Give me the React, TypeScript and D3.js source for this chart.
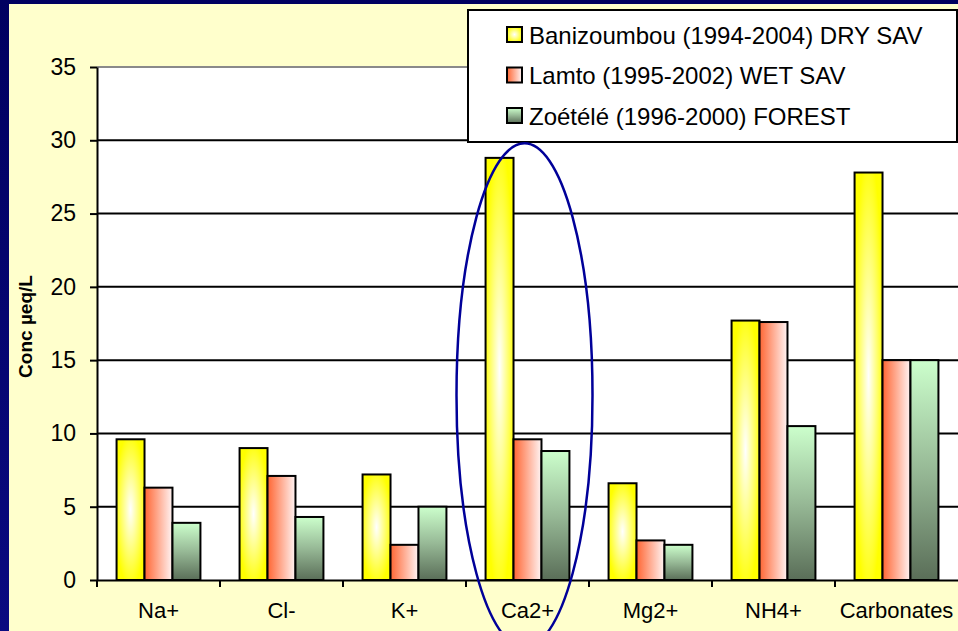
import React, { useEffect, useRef } from 'react';
import * as d3 from 'd3';

const categories = ["Na+", "Cl-", "K+", "Ca2+", "Mg2+", "NH4+", "Carbonates"];
const seriesNames = [
    "Banizoumbou (1994-2004) DRY SAV",
    "Lamto (1995-2002) WET SAV",
    "Zoétélé (1996-2000) FOREST"
];
const banizoumbou = [9.6, 9.0, 7.2, 28.8, 6.6, 17.7, 27.8];
const lamto = [6.3, 7.1, 2.4, 9.6, 2.7, 17.6, 15.0];
const zoetele = [3.9, 4.3, 5.0, 8.8, 2.4, 10.5, 15.0];
const yTicks = [0, 5, 10, 15, 20, 25, 30, 35];

const FONT = "Arial, 'Liberation Sans', sans-serif";

const App = () => {
    const svgRef = useRef(null);

    useEffect(() => {
        document.body.style.margin = "0";
        const W = 958, H = 631;
        const plot = { left: 97, right: 958, top: 67, bottom: 580 };

        const svg = d3.select(svgRef.current);
        svg.selectAll("*").remove();
        svg.attr("width", W).attr("height", H);

        const defs = svg.append("defs");

        // navy frame gradient
        const frame = defs.append("linearGradient").attr("id", "frame")
            .attr("x1", 0).attr("y1", 0).attr("x2", 0).attr("y2", 1);
        frame.append("stop").attr("offset", 0).attr("stop-color", "#000060");
        frame.append("stop").attr("offset", 1).attr("stop-color", "#0a0a80");

        // bar fills
        const yel = defs.append("radialGradient").attr("id", "g0")
            .attr("cx", 0.5).attr("cy", 0.5).attr("r", 0.55);
        yel.append("stop").attr("offset", 0).attr("stop-color", "#ffffff");
        yel.append("stop").attr("offset", 1).attr("stop-color", "#ffff00");

        const red = defs.append("linearGradient").attr("id", "g1")
            .attr("x1", 0).attr("y1", 0).attr("x2", 1).attr("y2", 0);
        red.append("stop").attr("offset", 0).attr("stop-color", "#ff6633");
        red.append("stop").attr("offset", 1).attr("stop-color", "#fff4f4");

        const grn = defs.append("linearGradient").attr("id", "g2")
            .attr("x1", 0).attr("y1", 0).attr("x2", 0).attr("y2", 1);
        grn.append("stop").attr("offset", 0).attr("stop-color", "#ccffcc");
        grn.append("stop").attr("offset", 0.5).attr("stop-color", "#97b996");
        grn.append("stop").attr("offset", 1).attr("stop-color", "#5a6e58");

        // background
        svg.append("rect").attr("width", W).attr("height", H).attr("fill", "url(#frame)");
        svg.append("rect").attr("x", 9).attr("y", 4).attr("width", W - 9).attr("height", H - 4)
            .attr("fill", "#ffffcc");

        // plot area
        svg.append("rect")
            .attr("x", plot.left).attr("y", plot.top)
            .attr("width", plot.right - plot.left).attr("height", plot.bottom - plot.top)
            .attr("fill", "#ffffff");

        const x0 = d3.scaleBand().domain(categories).range([plot.left, plot.right]).padding(0);
        const x1 = d3.scaleBand().domain(["0", "1", "2"]).range([0, x0.bandwidth()])
            .paddingInner(0).paddingOuter(0.7);
        const y = d3.scaleLinear().domain([0, 35]).range([plot.bottom, plot.top]);

        // gridlines
        svg.append("g").selectAll("line")
            .data(yTicks.filter(d => d > 0))
            .enter().append("line")
            .attr("x1", plot.left).attr("x2", plot.right)
            .attr("y1", d => y(d)).attr("y2", d => y(d))
            .attr("stroke", d => d === 35 ? "#8a8a8a" : "#000")
            .attr("stroke-width", 2);

        // bars
        const series = [banizoumbou, lamto, zoetele];
        const table = categories.map((c, i) => ({ c, vals: series.map(s => s[i]) }));

        const groups = svg.append("g").selectAll("g")
            .data(table)
            .enter().append("g")
            .attr("transform", d => `translate(${x0(d.c)},0)`);

        groups.selectAll("rect")
            .data(d => d.vals.map((v, k) => ({ v, k })))
            .enter().append("rect")
            .attr("x", d => x1(String(d.k)))
            .attr("y", d => y(d.v))
            .attr("width", x1.bandwidth())
            .attr("height", d => y(0) - y(d.v))
            .attr("fill", d => `url(#g${d.k})`)
            .attr("stroke", "#000")
            .attr("stroke-width", 2);

        // y axis
        const yAxis = d3.axisLeft(y).tickValues(yTicks).tickSize(7).tickSizeOuter(0).tickPadding(14);
        const ya = svg.append("g").attr("transform", `translate(${plot.left},0)`).call(yAxis);
        ya.select(".domain").attr("stroke", "#000").attr("stroke-width", 2);
        ya.selectAll(".tick line").attr("stroke", "#000").attr("stroke-width", 2);
        ya.selectAll("text")
            .attr("font-family", FONT)
            .attr("font-size", "23px")
            .attr("fill", "#000");

        // x axis
        const xAxis = d3.axisBottom(x0).tickSize(0).tickSizeOuter(0).tickPadding(22);
        const xa = svg.append("g").attr("transform", `translate(0,${plot.bottom})`).call(xAxis);
        xa.select(".domain").attr("stroke", "#000").attr("stroke-width", 2);
        xa.selectAll("text")
            .attr("font-family", FONT)
            .attr("font-size", "22px")
            .attr("fill", "#000");

        // tick marks between categories
        svg.append("g").selectAll("line")
            .data(d3.range(categories.length))
            .enter().append("line")
            .attr("x1", i => plot.left + i * x0.step())
            .attr("x2", i => plot.left + i * x0.step())
            .attr("y1", plot.bottom).attr("y2", plot.bottom + 7)
            .attr("stroke", "#000").attr("stroke-width", 2);

        // y axis label
        svg.append("text")
            .attr("transform", `translate(32,${(plot.top + plot.bottom) / 2 + 3}) rotate(-90)`)
            .attr("text-anchor", "middle")
            .attr("font-family", FONT)
            .attr("font-size", "19px")
            .attr("font-weight", "bold")
            .attr("fill", "#000")
            .text("Conc µeq/L");

        // legend
        const lg = svg.append("g").attr("transform", "translate(468,10)");
        lg.append("rect").attr("width", 489).attr("height", 132)
            .attr("fill", "#fff").attr("stroke", "#000").attr("stroke-width", 2);
        const items = lg.selectAll(".item")
            .data(seriesNames)
            .enter().append("g")
            .attr("class", "item")
            .attr("transform", (d, i) => `translate(0,${25 + i * 40.5})`);
        items.append("rect")
            .attr("x", 39).attr("y", -8).attr("width", 15).attr("height", 15)
            .attr("fill", (d, i) => `url(#g${i})`)
            .attr("stroke", "#000").attr("stroke-width", 2);
        items.append("text")
            .attr("x", 61).attr("dy", "0.36em")
            .attr("font-family", FONT)
            .attr("font-size", "24px")
            .attr("fill", "#000")
            .text(d => d);

        // highlight ellipse around Ca2+
        svg.append("ellipse")
            .attr("cx", x0("Ca2+") + x0.bandwidth() / 2 - 3)
            .attr("cy", y(12.6))
            .attr("rx", 68).attr("ry", 252)
            .attr("fill", "none")
            .attr("stroke", "#000099")
            .attr("stroke-width", 2.5);
    }, []);

    return (
        <div style={{ position: 'absolute', left: 0, top: 0 }}>
            <svg ref={svgRef} style={{ display: 'block' }}></svg>
        </div>
    );
};

export default App;
